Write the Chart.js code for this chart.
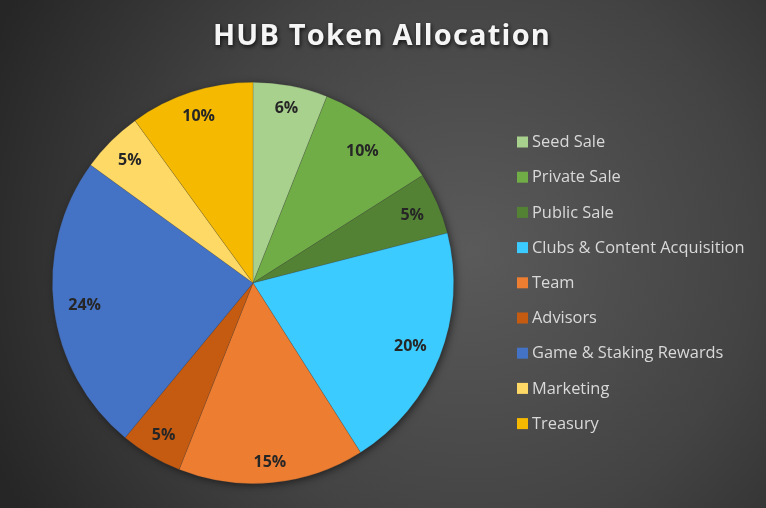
<!DOCTYPE html>
<html>
<head>
<meta charset="utf-8">
<script src="https://cdn.jsdelivr.net/npm/chart.js@4/dist/chart.umd.min.js"></script>
<style>
  html, body { margin: 0; padding: 0; background: #2a2a2a; }
  #wrap { width: 766px; height: 508px; position: relative; }
</style>
</head>
<body>
<div id="wrap"><canvas id="c" width="766" height="508"></canvas></div>
<script>
const chartTitle = 'HUB Token Allocation';
const categories = ['Seed Sale', 'Private Sale', 'Public Sale', 'Clubs & Content Acquisition', 'Team', 'Advisors', 'Game & Staking Rewards', 'Marketing', 'Treasury'];
const allocation = [6, 10, 5, 20, 15, 5, 24, 5, 10];
const sliceColors = ['#A9D18E', '#70AD47', '#548235', '#3BCBFF', '#ED7D31', '#C55A11', '#4472C4', '#FFD966', '#F5BA00'];

const bgPlugin = {
  id: 'bg',
  beforeDraw(chart) {
    const ctx = chart.ctx;
    const w = chart.width, h = chart.height;
    ctx.save();
    const g = ctx.createRadialGradient(470, 250, 0, 470, 250, 520);
    g.addColorStop(0, '#5a5a5a');
    g.addColorStop(0.55, '#434343');
    g.addColorStop(1, '#262626');
    ctx.fillStyle = g;
    ctx.fillRect(0, 0, w, h);
    // title
    ctx.font = 'bold 29px "Open Sans", sans-serif';
    if ('letterSpacing' in ctx) ctx.letterSpacing = '1.2px';
    ctx.textAlign = 'center';
    ctx.textBaseline = 'middle';
    ctx.shadowColor = 'rgba(0,0,0,0.75)';
    ctx.shadowBlur = 4;
    ctx.shadowOffsetX = 1;
    ctx.shadowOffsetY = 2;
    ctx.fillStyle = '#f5f5f5';
    ctx.fillText(chartTitle, 382, 37);
    ctx.restore();
  },
  beforeDatasetsDraw(chart) {
    const meta = chart.getDatasetMeta(0);
    if (!meta.data.length) return;
    const a = meta.data[0];
    const ctx = chart.ctx;
    ctx.save();
    ctx.shadowColor = 'rgba(0,0,0,0.6)';
    ctx.shadowBlur = 8;
    ctx.shadowOffsetX = 2;
    ctx.shadowOffsetY = 2;
    ctx.fillStyle = '#444';
    ctx.beginPath();
    ctx.arc(a.x, a.y, a.outerRadius - 1, 0, Math.PI * 2);
    ctx.fill();
    ctx.restore();
  },
  afterDatasetsDraw(chart) {
    const meta = chart.getDatasetMeta(0);
    const ctx = chart.ctx;
    ctx.save();
    ctx.font = 'bold 16px "Open Sans", sans-serif';
    ctx.fillStyle = '#262626';
    ctx.textAlign = 'center';
    ctx.textBaseline = 'middle';
    meta.data.forEach((arc, i) => {
      const p = arc.getProps(['x', 'y', 'startAngle', 'endAngle', 'outerRadius']);
      const mid = (p.startAngle + p.endAngle) / 2;
      const txt = allocation[i] + '%';
      const tw = ctx.measureText(txt).width;
      const th = 12;
      const ext = Math.abs(Math.cos(mid)) * tw / 2 + Math.abs(Math.sin(mid)) * th / 2;
      const d = p.outerRadius - 14 - ext;
      ctx.fillText(txt, p.x + Math.cos(mid) * d, p.y + Math.sin(mid) * d + 1);
    });
    ctx.restore();
  },
  afterDraw(chart) {
    const ctx = chart.ctx;
    ctx.save();
    ctx.font = '16.4px "Open Sans", sans-serif';
    ctx.textBaseline = 'middle';
    ctx.textAlign = 'left';
    categories.forEach((c, i) => {
      const y = 142 + i * 35.2;
      ctx.fillStyle = sliceColors[i];
      ctx.fillRect(517, y - 5.5, 11, 11);
      ctx.fillStyle = '#d9d9d9';
      ctx.fillText(c, 532, y + 0.5);
    });
    ctx.restore();
  }
};

new Chart(document.getElementById('c'), {
  type: 'pie',
  data: {
    labels: categories,
    datasets: [{
      data: allocation,
      backgroundColor: sliceColors,
      borderColor: 'rgba(60,60,60,0.35)',
      borderWidth: 0.6,
      hoverOffset: 0,
      offset: 0
    }]
  },
  options: {
    responsive: false,
    animation: false,
    events: [],
    layout: { padding: { top: 82, bottom: 24, left: 52, right: 312 } },
    plugins: {
      legend: { display: false },
      title: { display: false },
      tooltip: { enabled: false }
    }
  },
  plugins: [bgPlugin]
});
</script>
</body>
</html>
